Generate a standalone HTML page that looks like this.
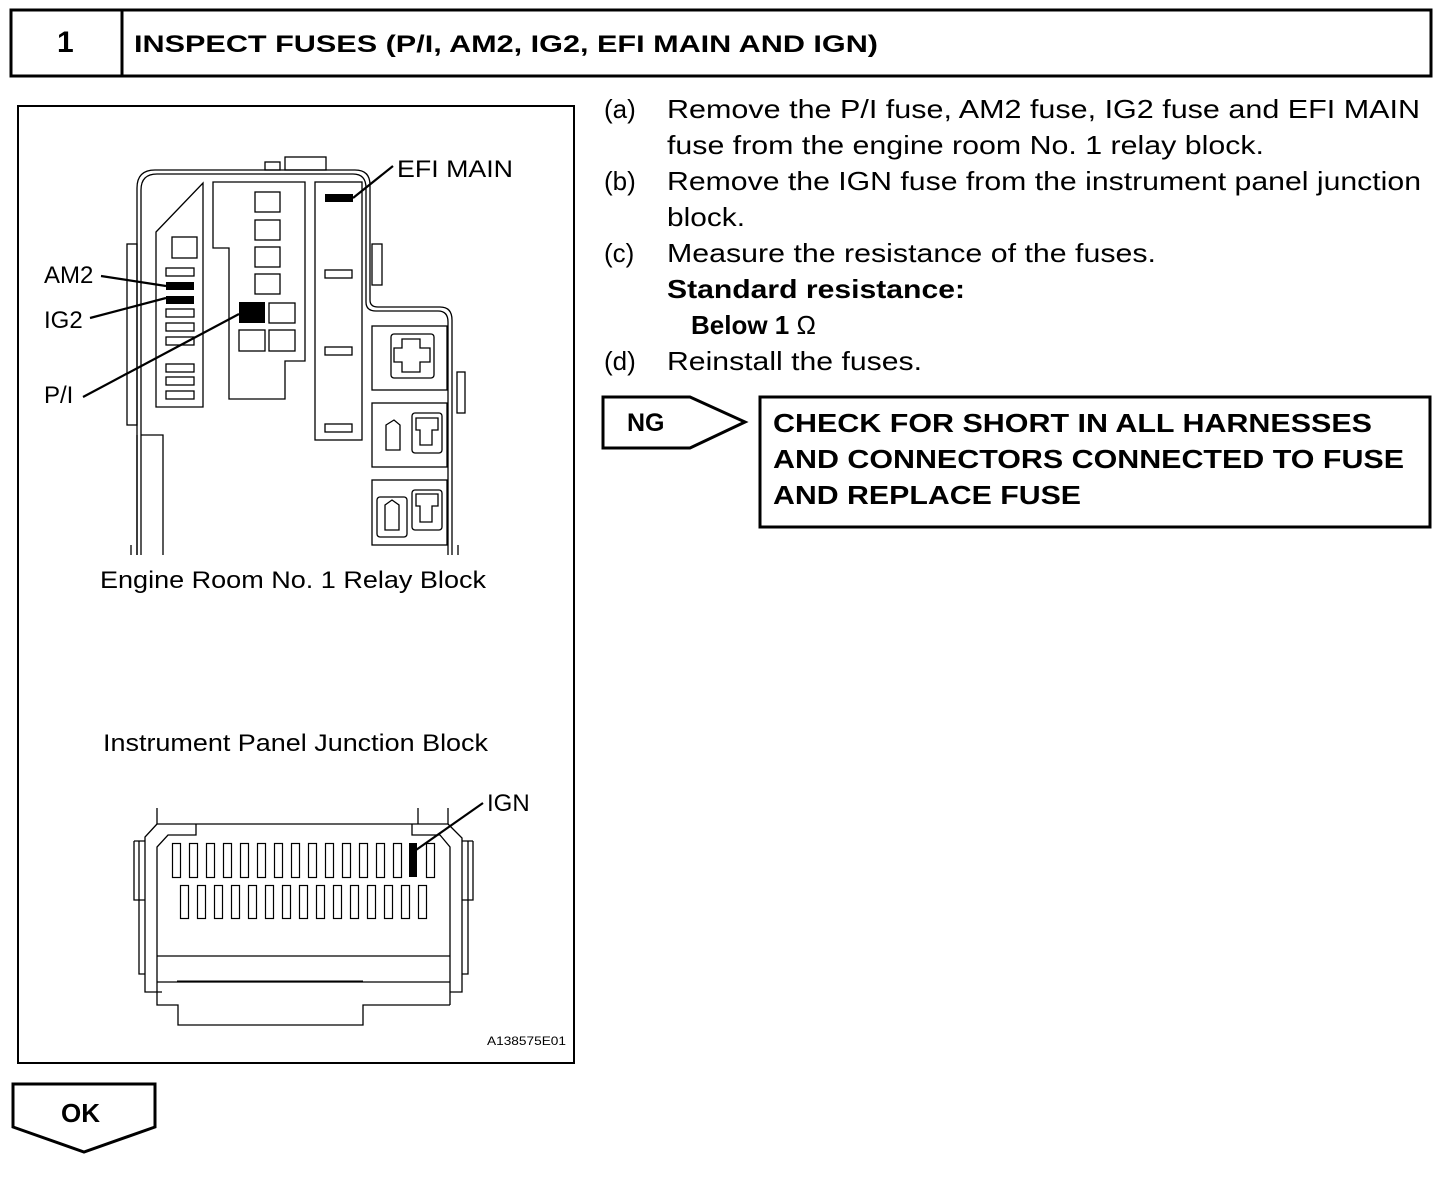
<!DOCTYPE html>
<html><head><meta charset="utf-8"><style>
html,body{margin:0;padding:0;background:#fff}
svg{display:block}
text{font-family:"Liberation Sans",Arial,sans-serif;fill:#000}
</style></head><body>
<svg width="1456" height="1180" viewBox="0 0 1456 1180" xmlns="http://www.w3.org/2000/svg">
<g fill="none" stroke="#000">
<rect x="11" y="10" width="1420" height="66" stroke-width="3"/>
<line x1="122" y1="10" x2="122" y2="76" stroke-width="3"/>
<rect x="18" y="106" width="556" height="957" stroke-width="2"/>
</g>
<text x="57" y="52" font-size="30" font-weight="bold">1</text>
<text x="134" y="52" font-size="24" font-weight="bold" textLength="744" lengthAdjust="spacingAndGlyphs">INSPECT FUSES (P/I, AM2, IG2, EFI MAIN AND IGN)</text>

<!-- relay block -->
<g fill="none" stroke="#000" stroke-width="1.3">
<path d="M137,555 V188 Q137,170 155,170 H355 Q370,170 370,185 V300 Q370,307 378,307 H440 Q452,307 452,320 V555"/>
<path d="M141,555 V190 Q141,174 157,174 H353 Q366,174 366,188 V302 Q366,311 376,311 H438 Q448,311 448,322 V555"/>
<path d="M141,435 H163 V555"/>
<path d="M137,435 V555" />
<rect x="285" y="157" width="41" height="13"/>
<rect x="265" y="162" width="15" height="8"/>
<rect x="127" y="244" width="10" height="181"/>
<rect x="372" y="244" width="10" height="41"/>
<rect x="457" y="372" width="8" height="41"/>
<polygon points="156,232 203,183 203,407 156,407"/>
<rect x="172" y="237" width="25" height="21"/>
<rect x="166" y="268" width="28" height="8"/>
<rect x="166" y="309" width="28" height="8"/>
<rect x="166" y="323" width="28" height="8"/>
<rect x="166" y="337" width="28" height="8"/>
<rect x="166" y="364" width="28" height="8"/>
<rect x="166" y="377" width="28" height="8"/>
<rect x="166" y="391" width="28" height="8"/>
<polygon points="213,182 305,182 305,361 285,361 285,399 229,399 229,248 213,248"/>
<rect x="255" y="192" width="25" height="20"/>
<rect x="255" y="220" width="25" height="20"/>
<rect x="255" y="247" width="25" height="20"/>
<rect x="255" y="274" width="25" height="20"/>
<rect x="269" y="303" width="26" height="20"/>
<rect x="239" y="330" width="26" height="21"/>
<rect x="269" y="330" width="26" height="21"/>
<rect x="315" y="182" width="47" height="258"/>
<rect x="325" y="270" width="27" height="8"/>
<rect x="325" y="347" width="27" height="8"/>
<rect x="325" y="424" width="27" height="8"/>
<rect x="372" y="326" width="75" height="64"/>
<rect x="372" y="403" width="75" height="64"/>
<rect x="372" y="480" width="75" height="65"/>
<rect x="391" y="334" width="43" height="44" rx="3"/>
<polygon points="402,339 420,339 420,348 430,348 430,362 420,362 420,372 402,372 402,362 394,362 394,348 402,348"/>
<rect x="412" y="413" width="30" height="40" rx="3"/>
<polygon points="386,425 394,420 400,425 400,450 386,450"/>
<polygon points="416,418 438,418 438,430 432,430 432,445 420,445 420,430 416,430"/>
<rect x="377" y="497" width="30" height="40" rx="3"/>
<rect x="412" y="490" width="30" height="40" rx="3"/>
<polygon points="385,505 392,500 399,505 399,530 385,530"/>
<polygon points="416,494 438,494 438,506 432,506 432,522 420,522 420,506 416,506"/>
<line x1="131" y1="545" x2="131" y2="555"/>
<line x1="458" y1="545" x2="458" y2="555"/>
</g>
<g fill="#000">
<rect x="166" y="282" width="28" height="8"/>
<rect x="166" y="296" width="28" height="8"/>
<rect x="239" y="302" width="26" height="21"/>
<rect x="325" y="194" width="28" height="8"/>
<rect x="409" y="843" width="8" height="34"/>
</g>
<g stroke="#000" stroke-width="2.2">
<line x1="353" y1="198" x2="393" y2="166"/>
<line x1="101" y1="276" x2="166" y2="286"/>
<line x1="90" y1="318" x2="166" y2="298"/>
<line x1="83" y1="397" x2="239" y2="314"/>
<line x1="416" y1="850" x2="483" y2="803"/>
</g>
<text x="397" y="177" font-size="24" textLength="116" lengthAdjust="spacingAndGlyphs">EFI MAIN</text>
<text x="44" y="283" font-size="24">AM2</text>
<text x="44" y="328" font-size="24">IG2</text>
<text x="44" y="403" font-size="24">P/I</text>
<text x="100" y="588" font-size="24" textLength="386" lengthAdjust="spacingAndGlyphs">Engine Room No. 1 Relay Block</text>
<text x="103" y="751" font-size="24" textLength="385" lengthAdjust="spacingAndGlyphs">Instrument Panel Junction Block</text>
<text x="487" y="811" font-size="24">IGN</text>
<text x="487" y="1045" font-size="12" textLength="79" lengthAdjust="spacingAndGlyphs">A138575E01</text>

<!-- connector -->
<g fill="none" stroke="#000" stroke-width="1.3">
<path d="M157,808 V824 H448"/>
<path d="M418,808 V824"/>
<path d="M448,808 V824"/>
<path d="M157,824 L145,837 V992 H162"/>
<path d="M196,824 V835 H168 L157,847 V1005 H178 V1025 H363 V1005 H450"/>
<path d="M412,824 V835 H440 L450,847 V1005"/>
<path d="M448,824 L462,838 V992 H450"/>
<path d="M134,841 H145 M134,841 V900 H145"/>
<path d="M139,841 V974 H145"/>
<path d="M473,841 H462 M473,841 V900 H462"/>
<path d="M468,841 V974 H462"/>
<line x1="157" y1="956" x2="450" y2="956"/>
<line x1="157" y1="982" x2="450" y2="982"/>
</g>
<line x1="177" y1="981.5" x2="363" y2="981.5" stroke="#000" stroke-width="2"/>
<g fill="none" stroke="#000" stroke-width="1.2">
<rect x="172.5" y="843.5" width="8" height="34"/><rect x="189.5" y="843.5" width="8" height="34"/><rect x="206.5" y="843.5" width="8" height="34"/><rect x="223.5" y="843.5" width="8" height="34"/><rect x="240.5" y="843.5" width="8" height="34"/><rect x="257.5" y="843.5" width="8" height="34"/><rect x="274.5" y="843.5" width="8" height="34"/><rect x="291.5" y="843.5" width="8" height="34"/><rect x="308.5" y="843.5" width="8" height="34"/><rect x="325.5" y="843.5" width="8" height="34"/><rect x="342.5" y="843.5" width="8" height="34"/><rect x="359.5" y="843.5" width="8" height="34"/><rect x="376.5" y="843.5" width="8" height="34"/><rect x="393.5" y="843.5" width="8" height="34"/><rect x="426.5" y="843.5" width="8" height="34"/>
<rect x="180.5" y="885.5" width="8" height="33"/><rect x="197.5" y="885.5" width="8" height="33"/><rect x="214.5" y="885.5" width="8" height="33"/><rect x="231.5" y="885.5" width="8" height="33"/><rect x="248.5" y="885.5" width="8" height="33"/><rect x="265.5" y="885.5" width="8" height="33"/><rect x="282.5" y="885.5" width="8" height="33"/><rect x="299.5" y="885.5" width="8" height="33"/><rect x="316.5" y="885.5" width="8" height="33"/><rect x="333.5" y="885.5" width="8" height="33"/><rect x="350.5" y="885.5" width="8" height="33"/><rect x="367.5" y="885.5" width="8" height="33"/><rect x="384.5" y="885.5" width="8" height="33"/><rect x="401.5" y="885.5" width="8" height="33"/><rect x="418.5" y="885.5" width="8" height="33"/>
</g>

<!-- right text -->
<g font-size="26">
<text x="604" y="118">(a)</text>
<text x="667" y="118" textLength="753" lengthAdjust="spacingAndGlyphs">Remove the P/I fuse, AM2 fuse, IG2 fuse and EFI MAIN</text>
<text x="667" y="154" textLength="597" lengthAdjust="spacingAndGlyphs">fuse from the engine room No. 1 relay block.</text>
<text x="604" y="190">(b)</text>
<text x="667" y="190" textLength="754" lengthAdjust="spacingAndGlyphs">Remove the IGN fuse from the instrument panel junction</text>
<text x="667" y="226" textLength="78" lengthAdjust="spacingAndGlyphs">block.</text>
<text x="604" y="262">(c)</text>
<text x="667" y="262" textLength="489" lengthAdjust="spacingAndGlyphs">Measure the resistance of the fuses.</text>
<text x="667" y="298" font-weight="bold" textLength="298" lengthAdjust="spacingAndGlyphs">Standard resistance:</text>
<text x="691" y="334" font-weight="bold">Below 1 <tspan font-weight="normal">Ω</tspan></text>
<text x="604" y="370">(d)</text>
<text x="667" y="370" textLength="255" lengthAdjust="spacingAndGlyphs">Reinstall the fuses.</text>
</g>
<polygon points="603,397 690,397 745,422 690,448 603,448" fill="none" stroke="#000" stroke-width="3"/>
<text x="627" y="431" font-size="25" font-weight="bold">NG</text>
<rect x="760" y="397" width="670" height="130" fill="none" stroke="#000" stroke-width="3"/>
<g font-size="26" font-weight="bold">
<text x="773" y="432" textLength="599" lengthAdjust="spacingAndGlyphs">CHECK FOR SHORT IN ALL HARNESSES</text>
<text x="773" y="468" textLength="631" lengthAdjust="spacingAndGlyphs">AND CONNECTORS CONNECTED TO FUSE</text>
<text x="773" y="504" textLength="308" lengthAdjust="spacingAndGlyphs">AND REPLACE FUSE</text>
</g>
<polygon points="13,1084 155,1084 155,1127 84,1152 13,1127" fill="none" stroke="#000" stroke-width="3"/>
<text x="61" y="1122" font-size="26" font-weight="bold">OK</text>
</svg>
</body></html>
